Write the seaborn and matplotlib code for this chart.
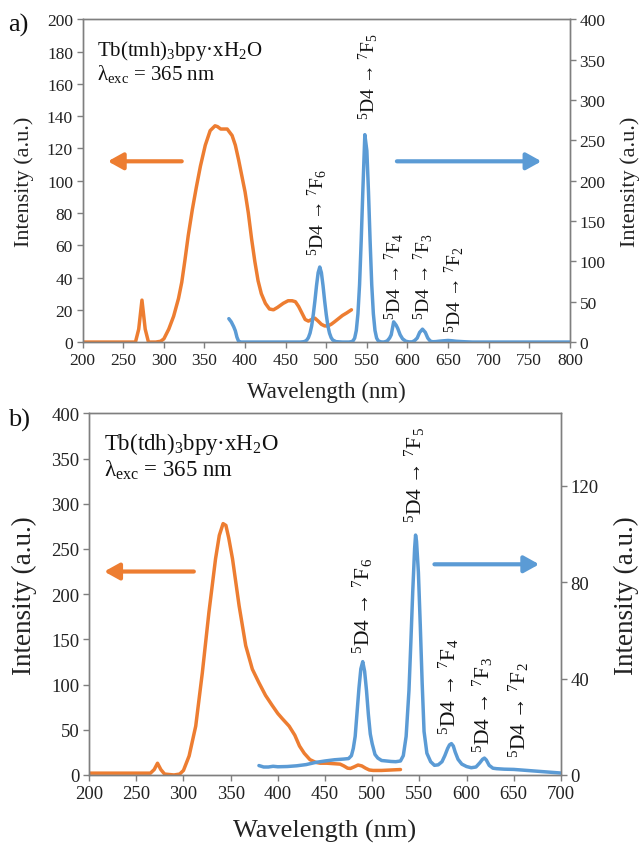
import matplotlib
matplotlib.use("Agg")
import matplotlib.pyplot as plt
import seaborn as sns
import pandas as pd

# ---------------- data ----------------
# Panel a: Tb(tmh)3bpy·xH2O
a_exc_wl = [200, 265, 269, 273, 277, 281, 290, 296, 300, 306, 312, 318, 322, 326, 330, 335,
            340, 345, 351, 357, 363, 366, 370, 378, 384, 388, 392, 396, 400, 404, 408, 412,
            416, 420, 425, 430, 435, 440, 447, 453, 458, 462, 466, 470, 474, 478, 482, 486,
            490, 494, 498, 502, 506, 510, 515, 520, 525, 531]
a_exc_int = [0, 0, 8, 26, 8, 0, 0, 0.5, 2, 8, 16, 27, 37, 51, 66, 82,
             96, 109, 122, 131, 134, 133.5, 132, 132, 128, 122, 113, 103, 93, 80, 64, 50,
             38, 30, 24, 20.5, 20, 21.5, 24, 25.6, 25.6, 25, 22, 18, 14, 13, 14, 14.8,
             13, 11, 10, 10, 11, 12.5, 14.5, 16.5, 18, 20]

a_em_wl = [380, 383, 386, 388, 390, 392, 395, 400, 440, 468, 472, 474, 476, 478, 480, 482,
           484, 486, 488, 490, 492, 494, 496, 498, 500, 502, 504, 506, 508, 512, 520, 528,
           531, 533, 535, 537, 539, 541, 543, 545, 547.5, 550, 552, 554, 556, 558, 560, 562,
           564, 567, 570, 572, 575, 578, 580, 583, 586, 588, 591, 594, 598, 602, 606, 609,
           612, 615, 618.5, 622, 625, 628, 631, 635, 640, 645, 650, 655, 660, 670, 680, 700,
           750, 800]
a_em_int = [29, 25, 19, 14, 6, 1, 0, 0, 0, 0, 0.4, 1, 2.5, 5.5, 11, 20,
            34, 51, 70, 86, 93, 86, 70, 51, 34, 20, 11, 5.5, 2.5, 0.5, 0, 0,
            0.5, 1.5, 5, 14.4, 35, 71, 125, 186, 257, 237, 186, 125, 71, 35, 14.4, 5,
            1.5, 0.3, 0, 0.3, 1.4, 5, 9, 25, 21, 17, 9, 4, 1, 0.2, 0.3, 2,
            5, 12, 16, 12, 5, 1.3, 0.4, 0.6, 1.2, 1.6, 2, 1.6, 1, 0.4, 0, 0,
            0, 0]

# Panel b: Tb(tdh)3bpy·xH2O
b_exc_wl = [200, 265, 269, 272.5, 276, 280, 290, 296, 300, 306, 313, 320, 327, 334, 338, 342,
            345, 348, 352, 359, 366, 373, 380, 387, 394, 400, 405, 412, 418, 423, 428, 434,
            440, 445, 452, 459, 466, 470, 474, 477, 481, 485, 489, 493, 497, 501, 510, 520, 530]
b_exc_int = [2, 2, 6, 13, 6, 1, 0, 1, 5, 21, 54, 113, 180, 239, 265, 278,
             276, 262, 239, 187, 143, 117, 102, 88, 77, 68, 62, 54, 44, 32, 24, 17,
             14, 13, 13, 12.5, 12, 10, 7.5, 7.2, 9, 11, 10, 7.5, 5.5, 5, 5, 5.5, 6]

b_em_wl = [380, 385, 390, 395, 400, 410, 420, 430, 440, 450, 460, 470, 475, 478, 480, 482,
           484, 486, 488, 490, 492, 494, 496, 498, 500, 503, 506, 510, 515, 520, 525, 530,
           533, 536, 539, 541, 543, 545, 546, 547, 549, 551, 553, 555, 558, 562, 566, 570,
           574, 577, 580, 582, 584, 586, 588, 591, 595, 600, 605, 610, 614, 617, 619, 621,
           624, 628, 632, 640, 650, 660, 670, 680, 690, 700]
b_em_int = [3.9, 3.3, 3.3, 3.6, 3.4, 3.5, 3.8, 4.3, 5.2, 5.8, 6.3, 6.6, 6.8, 8, 11, 16,
            26, 36, 44, 47, 43, 35, 25, 17, 13, 8.5, 7, 6, 5.8, 5.6, 5.5, 5.8,
            8, 16, 35, 55, 76, 94, 99.5, 97, 84, 62, 38, 18, 9, 5.5, 4, 4.2,
            5.5, 8, 11, 12.5, 13, 12, 9.5, 6.5, 4.5, 3.5, 3, 3.3, 5, 6.5, 7, 6.2,
            4, 2.8, 2.6, 2.4, 2.3, 2, 1.7, 1.4, 1.1, 0.8]

a_ticks_x = list(range(200, 801, 50))
a_ticks_left = list(range(0, 201, 20))
a_ticks_right = list(range(0, 401, 50))
b_ticks_x = list(range(200, 701, 50))
b_ticks_left = list(range(0, 401, 50))
b_ticks_right = [0, 40, 80, 120]

a_title = ["Tb(tmh)$_3$bpy·xH$_2$O", r"λ$_{\mathrm{exc}}$ = 365 nm"]
b_title = ["Tb(tdh)$_3$bpy·xH$_2$O", r"λ$_{\mathrm{exc}}$ = 365 nm"]
trans_labels = [r"$^5$D4 → $^7$F$_6$", r"$^5$D4 → $^7$F$_5$", r"$^5$D4 → $^7$F$_4$",
                r"$^5$D4 → $^7$F$_3$", r"$^5$D4 → $^7$F$_2$"]
a_trans_pos = [(489, 54), (551, 138), (584, 14), (619, 14), (657, 6)]       # (wl, left-axis value)
b_trans_pos = [(490, 135), (545, 280), (581, 45), (617, 25), (656, 20)]

ORANGE = "#ED7D31"
BLUE = "#5B9BD5"
SPINE = "#7f7f7f"

# ---------------- style ----------------
sns.set_theme(style="ticks")
plt.rcParams["font.family"] = ["Liberation Serif", "DejaVu Serif"]
plt.rcParams["mathtext.fontset"] = "custom"
plt.rcParams["mathtext.rm"] = "Liberation Serif"
plt.rcParams["mathtext.it"] = "Liberation Serif:italic"
plt.rcParams["mathtext.bf"] = "Liberation Serif:bold"

fig = plt.figure(figsize=(6.41, 8.45), dpi=100)


def style_axes(ax, size):
    for s in ax.spines.values():
        s.set_color(SPINE)
        s.set_linewidth(1.0)
    ax.tick_params(axis="both", which="both", direction="out", length=4, width=1.0,
                   color=SPINE, labelsize=size, labelcolor="#222222", pad=3)


def panel(rect, exc_wl, exc_int, em_wl, em_int, xt, ylt, yrt, xlim, ylim_l, ylim_r,
          title, tpos, tick_fs, lab_fs, xlab_fs, ann_fs, title_fs, lab_coords, arrows, tag, tagpos):
    ax = fig.add_axes(rect)
    axr = ax.twinx()
    df_exc = pd.DataFrame({"wl": exc_wl, "I": exc_int})
    df_em = pd.DataFrame({"wl": em_wl, "I": em_int})
    sns.lineplot(data=df_exc, x="wl", y="I", ax=ax, color=ORANGE, linewidth=2.5, estimator=None)
    sns.lineplot(data=df_em, x="wl", y="I", ax=axr, color=BLUE, linewidth=2.5, estimator=None)
    ax.set_xlim(*xlim)
    ax.set_ylim(*ylim_l)
    axr.set_ylim(*ylim_r)
    ax.set_xticks(xt)
    ax.set_yticks(ylt)
    axr.set_yticks(yrt)
    style_axes(ax, tick_fs)
    style_axes(axr, tick_fs)
    ax.set_xlabel("Wavelength (nm)", fontsize=xlab_fs, color="#222222")
    ax.set_ylabel("Intensity (a.u.)", fontsize=lab_fs, color="#222222")
    axr.set_ylabel("Intensity (a.u.)", fontsize=lab_fs, color="#222222", rotation=90)
    ax.xaxis.set_label_coords(0.5, lab_coords[2])
    ax.xaxis.label.set_va("center")
    ax.yaxis.set_label_coords(lab_coords[0], 0.5)
    ax.yaxis.label.set_va("center")
    axr.yaxis.set_label_coords(lab_coords[1], 0.5)
    axr.yaxis.label.set_va("center")
    # title block
    ax.text(tpos[0], tpos[1], title[0], fontsize=title_fs, ha="left", va="baseline", color="#111111")
    ax.text(tpos[0], tpos[2], title[1], fontsize=title_fs, ha="left", va="baseline", color="#111111")
    # transition labels
    for lbl, (x, y) in zip(trans_labels, tpos[3]):
        ax.text(x, y, lbl, rotation=90, fontsize=ann_fs, ha="center", va="bottom", color="#111111")
    # direction arrows
    for (x0, x1, y, c) in arrows:
        ax.annotate("", xy=(x1, y), xytext=(x0, y),
                    arrowprops=dict(arrowstyle="-|>,head_length=0.45,head_width=0.25",
                                    lw=3.0, color=c, shrinkA=0, shrinkB=0, mutation_scale=20))
    fig.text(tagpos[0], tagpos[1], tag, fontsize=19, ha="left", va="center", color="#111111")
    return ax, axr


panel([0.129, 0.594, 0.760, 0.382], a_exc_wl, a_exc_int, a_em_wl, a_em_int,
      a_ticks_x, a_ticks_left, a_ticks_right, (200, 800), (0, 200), (0, 400),
      a_title, (218, 178, 163, a_trans_pos), 12.5, 16, 16.5, 14, 15,
      (-0.120, 1.123, -0.152),
      [(322, 231, 112, ORANGE), (587, 765, 112, BLUE)], "a)", (0.012, 1 - 25 / 845))

panel([0.139, 0.0817, 0.736, 0.428], b_exc_wl, b_exc_int, b_em_wl, b_em_int,
      b_ticks_x, b_ticks_left, b_ticks_right, (200, 700), (0, 400), (0, 150),
      b_title, (216, 361, 331, b_trans_pos), 13.5, 19.5, 19, 15.5, 16.5,
      (-0.137, 1.140, -0.154),
      [(311, 216, 225, ORANGE), (566, 677, 233, BLUE)], "b)", (0.012, 1 - 420 / 845))

fig.savefig("out.png", dpi=100)
